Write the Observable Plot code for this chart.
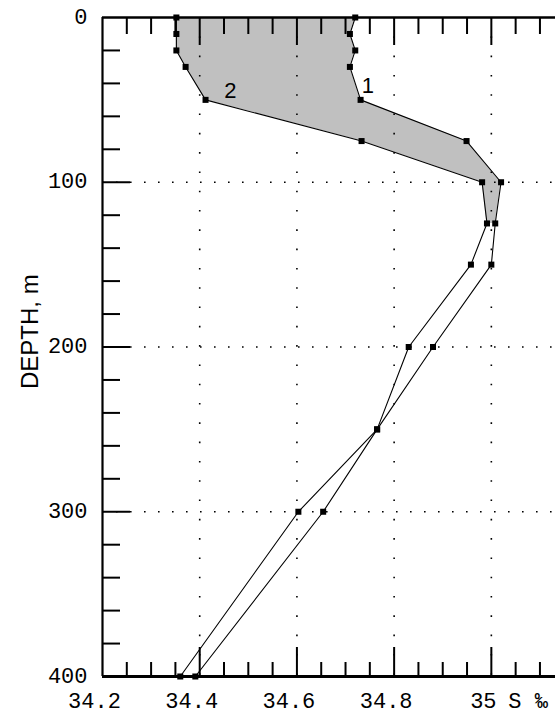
<!DOCTYPE html>
<html>
<head>
<meta charset="utf-8">
<script src="https://cdn.jsdelivr.net/npm/d3@7"></script>
<script src="https://cdn.jsdelivr.net/npm/@observablehq/plot@0.6"></script>
<style>
  html, body { margin: 0; padding: 0; background: #fff; }
  #chart { width: 555px; height: 713px; }
</style>
</head>
<body>
<div id="chart"></div>
<script>
// ---- data ----
const depths   = [0, 10, 20, 30, 50, 75, 100, 125, 150, 200, 250, 300, 400];
const salinity1 = [34.720, 34.709, 34.720, 34.709, 34.731, 34.949, 35.020, 35.008, 35.000, 34.880, 34.765, 34.603, 34.360];
const salinity2 = [34.352, 34.352, 34.352, 34.371, 34.412, 34.733, 34.981, 34.991, 34.958, 34.830, 34.765, 34.654, 34.391];
const shadeMaxDepth = 125;

const xTickLabelValues = [34.2, 34.4, 34.6, 34.8, 35.0];
const xTickLabels = ["34.2", "34.4", "34.6", "34.8", "35"];
const xMinorTicks = [34.25, 34.3, 34.35, 34.45, 34.5, 34.55, 34.65, 34.7, 34.75, 34.85, 34.9, 34.95, 35.05, 35.1];
const xMajorTicks = [34.4, 34.6, 34.8, 35.0];
const yTickLabels = [0, 100, 200, 300, 400];
const yMinorTicks = [20, 40, 60, 80, 120, 140, 160, 180, 220, 240, 260, 280, 320, 340, 360, 380];
const yMajorTicks = [100, 200, 300];
const curveNames = ["1", "2"];
const curveLabelS = [34.746, 34.463];
const curveLabelDepth = [41.5, 44.5];
const xUnit = "S ‰";
const yTitle = "DEPTH, m";

// ---- layout ----
const W = 555, H = 713, ML = 102, MR = 0, MT = 17, MB = 37;
const xDomain = [34.2, 35.132];
const pxX = (W - ML - MR) / (xDomain[1] - xDomain[0]);
const pxY = (H - MT - MB) / 400;

const rows1 = depths.map((d, i) => ({depth: d, s: salinity1[i]}));
const rows2 = depths.map((d, i) => ({depth: d, s: salinity2[i]}));
const shade = depths.map((d, i) => ({depth: d, s1: salinity1[i], s2: salinity2[i]})).filter(r => r.depth <= shadeMaxDepth);
const labels = curveNames.map((n, i) => ({name: n, s: curveLabelS[i], depth: curveLabelDepth[i]}));

const monoFont = "Liberation Mono, DejaVu Sans Mono, monospace";
const sansFont = "Liberation Sans, Arial, sans-serif";

const chart = Plot.plot({
  width: W, height: H,
  marginLeft: ML, marginRight: MR, marginTop: MT, marginBottom: MB,
  x: {domain: xDomain, axis: null},
  y: {domain: [0, 400], reverse: true, axis: null},
  style: {background: "white", overflow: "visible"},
  marks: [
    Plot.areaX(shade, {y: "depth", x1: "s2", x2: "s1", fill: "#c0c0c0"}),
    // dotted grid
    Plot.ruleX(xMajorTicks, {x: d => d, stroke: "black", strokeWidth: 1.6, strokeDasharray: "1.6,17.7"}),
    Plot.ruleY(yMajorTicks, {y: d => d, stroke: "black", strokeWidth: 1.6, strokeDasharray: "1.6,12.4"}),
    // profiles
    Plot.line(rows1, {x: "s", y: "depth", stroke: "black", strokeWidth: 1.1}),
    Plot.line(rows2, {x: "s", y: "depth", stroke: "black", strokeWidth: 1.1}),
    Plot.dot(rows1, {x: "s", y: "depth", symbol: "square", r: 3.4, fill: "black"}),
    Plot.dot(rows2, {x: "s", y: "depth", symbol: "square", r: 3.4, fill: "black"}),
    // frame
    Plot.ruleY([0], {y: d => d, stroke: "black", strokeWidth: 2.5}),
    Plot.ruleY([400], {y: d => d, stroke: "black", strokeWidth: 3}),
    Plot.ruleX([34.2], {x: d => d, stroke: "black", strokeWidth: 2.2}),
    // bottom ticks (inward)
    Plot.ruleX(xMinorTicks, {x: d => d, y1: 400, y2: 400 - 14 / pxY, stroke: "black", strokeWidth: 2}),
    Plot.ruleX(xMajorTicks, {x: d => d, y1: 400, y2: 400 - 29 / pxY, stroke: "black", strokeWidth: 2}),
    // top ticks (inward)
    Plot.ruleX(xMinorTicks, {x: d => d, y1: 0, y2: 17 / pxY, stroke: "black", strokeWidth: 2}),
    Plot.ruleX(xMajorTicks, {x: d => d, y1: 0, y2: 28 / pxY, stroke: "black", strokeWidth: 2}),
    // left ticks (inward)
    Plot.ruleY(yMinorTicks, {y: d => d, x1: xDomain[0], x2: xDomain[0] + 18 / pxX, stroke: "black", strokeWidth: 2}),
    Plot.ruleY(yMajorTicks, {y: d => d, x1: xDomain[0], x2: xDomain[0] + 28 / pxX, stroke: "black", strokeWidth: 2}),
    // tick labels
    Plot.text(xTickLabelValues, {x: d => d, y: 400, text: (d, i) => xTickLabels[i], dx: -8, dy: 24,
      fontFamily: monoFont, fontSize: 22, fill: "black"}),
    Plot.text([xUnit], {x: 35.0, y: 400, text: d => d, dx: 17, dy: 24, textAnchor: "start",
      fontFamily: monoFont, fontSize: 22, fill: "black"}),
    Plot.text(yTickLabels, {x: xDomain[0], y: d => d, text: d => String(d), dx: -15, dy: -1, textAnchor: "end",
      fontFamily: monoFont, fontSize: 22, fill: "black"}),
    // curve labels
    Plot.text(labels, {x: "s", y: "depth", text: "name", fontFamily: sansFont, fontSize: 22, fill: "black"}),
    // y title
    Plot.text([yTitle], {frameAnchor: "left", text: d => d, rotate: -90, dx: -72, dy: 42,
      fontFamily: sansFont, fontSize: 24, fill: "black"})
  ]
});
document.getElementById("chart").appendChild(chart);
</script>
</body>
</html>
